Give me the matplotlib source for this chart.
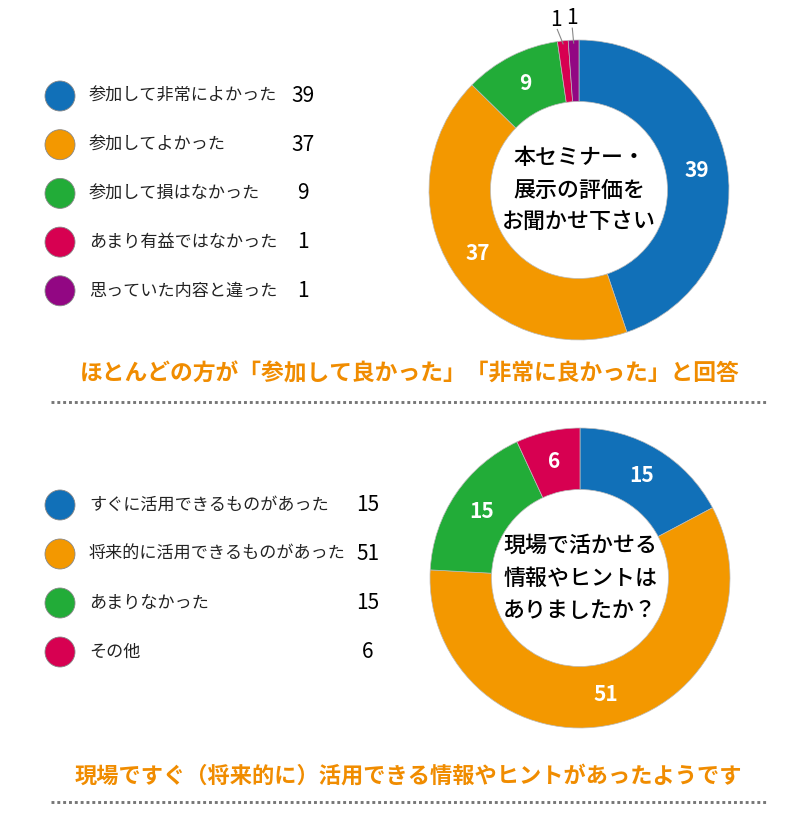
import matplotlib
matplotlib.use("Agg")
import matplotlib.pyplot as plt
import numpy as np
from matplotlib.patches import Circle

plt.rcParams['font.family'] = ['Noto Sans CJK JP', 'DejaVu Sans']

# ---------------- data ----------------
q1_title = "本セミナー・\n展示の評価を\nお聞かせ下さい"
q1_labels = ["参加して非常によかった", "参加してよかった", "参加して損はなかった",
             "あまり有益ではなかった", "思っていた内容と違った"]
q1_values = [39, 37, 9, 1, 1]
q1_summary = "ほとんどの方が「参加して良かった」「非常に良かった」と回答"

q2_title = "現場で活かせる\n情報やヒントは\nありましたか？"
q2_labels = ["すぐに活用できるものがあった", "将来的に活用できるものがあった",
             "あまりなかった", "その他"]
q2_values = [15, 51, 15, 6]
q2_summary = "現場ですぐ（将来的に）活用できる情報やヒントがあったようです"

q1_colors = ["#1170B8", "#F39800", "#22AC38", "#D70051", "#920783"]
q2_colors = ["#1170B8", "#F39800", "#22AC38", "#D70051"]
summary_color = "#F08C00"

W, H = 800, 838
fig = plt.figure(figsize=(W / 100, H / 100), dpi=100)
ax = fig.add_axes([0, 0, 1, 1])
ax.set_xlim(0, W)
ax.set_ylim(0, H)
ax.set_aspect('equal')
ax.axis('off')


def Y(y):
    return H - y


def donut(cx, cy, values, colors, title):
    R = 150
    width = 0.41 * R
    wedges, _ = ax.pie(values, colors=colors, startangle=90, counterclock=False,
                       center=(cx, Y(cy)), radius=R, frame=True,
                       wedgeprops=dict(width=width, edgecolor="#bbbbbb", linewidth=0.5))
    total = sum(values)
    rmid = R - width / 2
    small = []
    for w, v in zip(wedges, values):
        ang = np.deg2rad((w.theta1 + w.theta2) / 2)
        if v / total > 0.03:
            ax.text(cx + rmid * np.cos(ang), Y(cy) + rmid * np.sin(ang), str(v),
                    color="white", fontsize=15, fontweight="bold",
                    ha="center", va="center")
        else:
            small.append((w, v))
    for i, (w, v) in enumerate(small):
        angd = (w.theta1 + w.theta2) / 2
        ang = np.deg2rad(angd)
        tang = np.deg2rad(angd + (1.5 if i == 0 else 0.3))
        x0, y0 = cx + (R - 3) * np.cos(ang), Y(cy) + (R - 3) * np.sin(ang)
        x1, y1 = cx + 162 * np.cos(tang), Y(cy) + 162 * np.sin(tang)
        ax.plot([x0, x1], [y0, y1], color="#888888", lw=0.8)
        ax.text(cx + 172 * np.cos(tang), Y(cy) + 172 * np.sin(tang), str(v),
                fontsize=15, color="black", ha="center", va="center")
    ax.text(cx, Y(cy), title, fontsize=15.8, fontweight="medium", ha="center",
            va="center", linespacing=1.55, color="black")


donut(579, 190, q1_values, q1_colors, q1_title)
donut(580, 578, q2_values, q2_colors, q2_title)

ax.set_xlim(0, W)
ax.set_ylim(0, H)
ax.axis('off')


def legend(y0, step, labels, values, colors, numx):
    for i, (lab, v, c) in enumerate(zip(labels, values, colors)):
        y = y0 + i * step
        ax.add_patch(Circle((60, Y(y)), 15, facecolor=c, edgecolor="#888888", lw=0.6))
        ax.text(89, Y(y), lab, fontsize=12.3, ha="left", va="center", color="#222222")
        ax.text(numx, Y(y), str(v), fontsize=15, ha="center", va="center", color="black")


legend(96, 48.7, q1_labels, q1_values, q1_colors, 303)
legend(505, 49, q2_labels, q2_values, q2_colors, 368)

ax.text(410, Y(374), q1_summary, fontsize=16.4, fontweight="bold",
        color=summary_color, ha="center", va="center")
ax.text(408, Y(776), q2_summary, fontsize=16.0, fontweight="bold",
        color=summary_color, ha="center", va="center")

for yy in (402, 802):
    ax.plot([51, 768], [Y(yy), Y(yy)], color="#777777", lw=2.1,
            ls=(0, (1, 1)), dash_capstyle="butt")

fig.savefig("out.png", dpi=100, facecolor="white")
